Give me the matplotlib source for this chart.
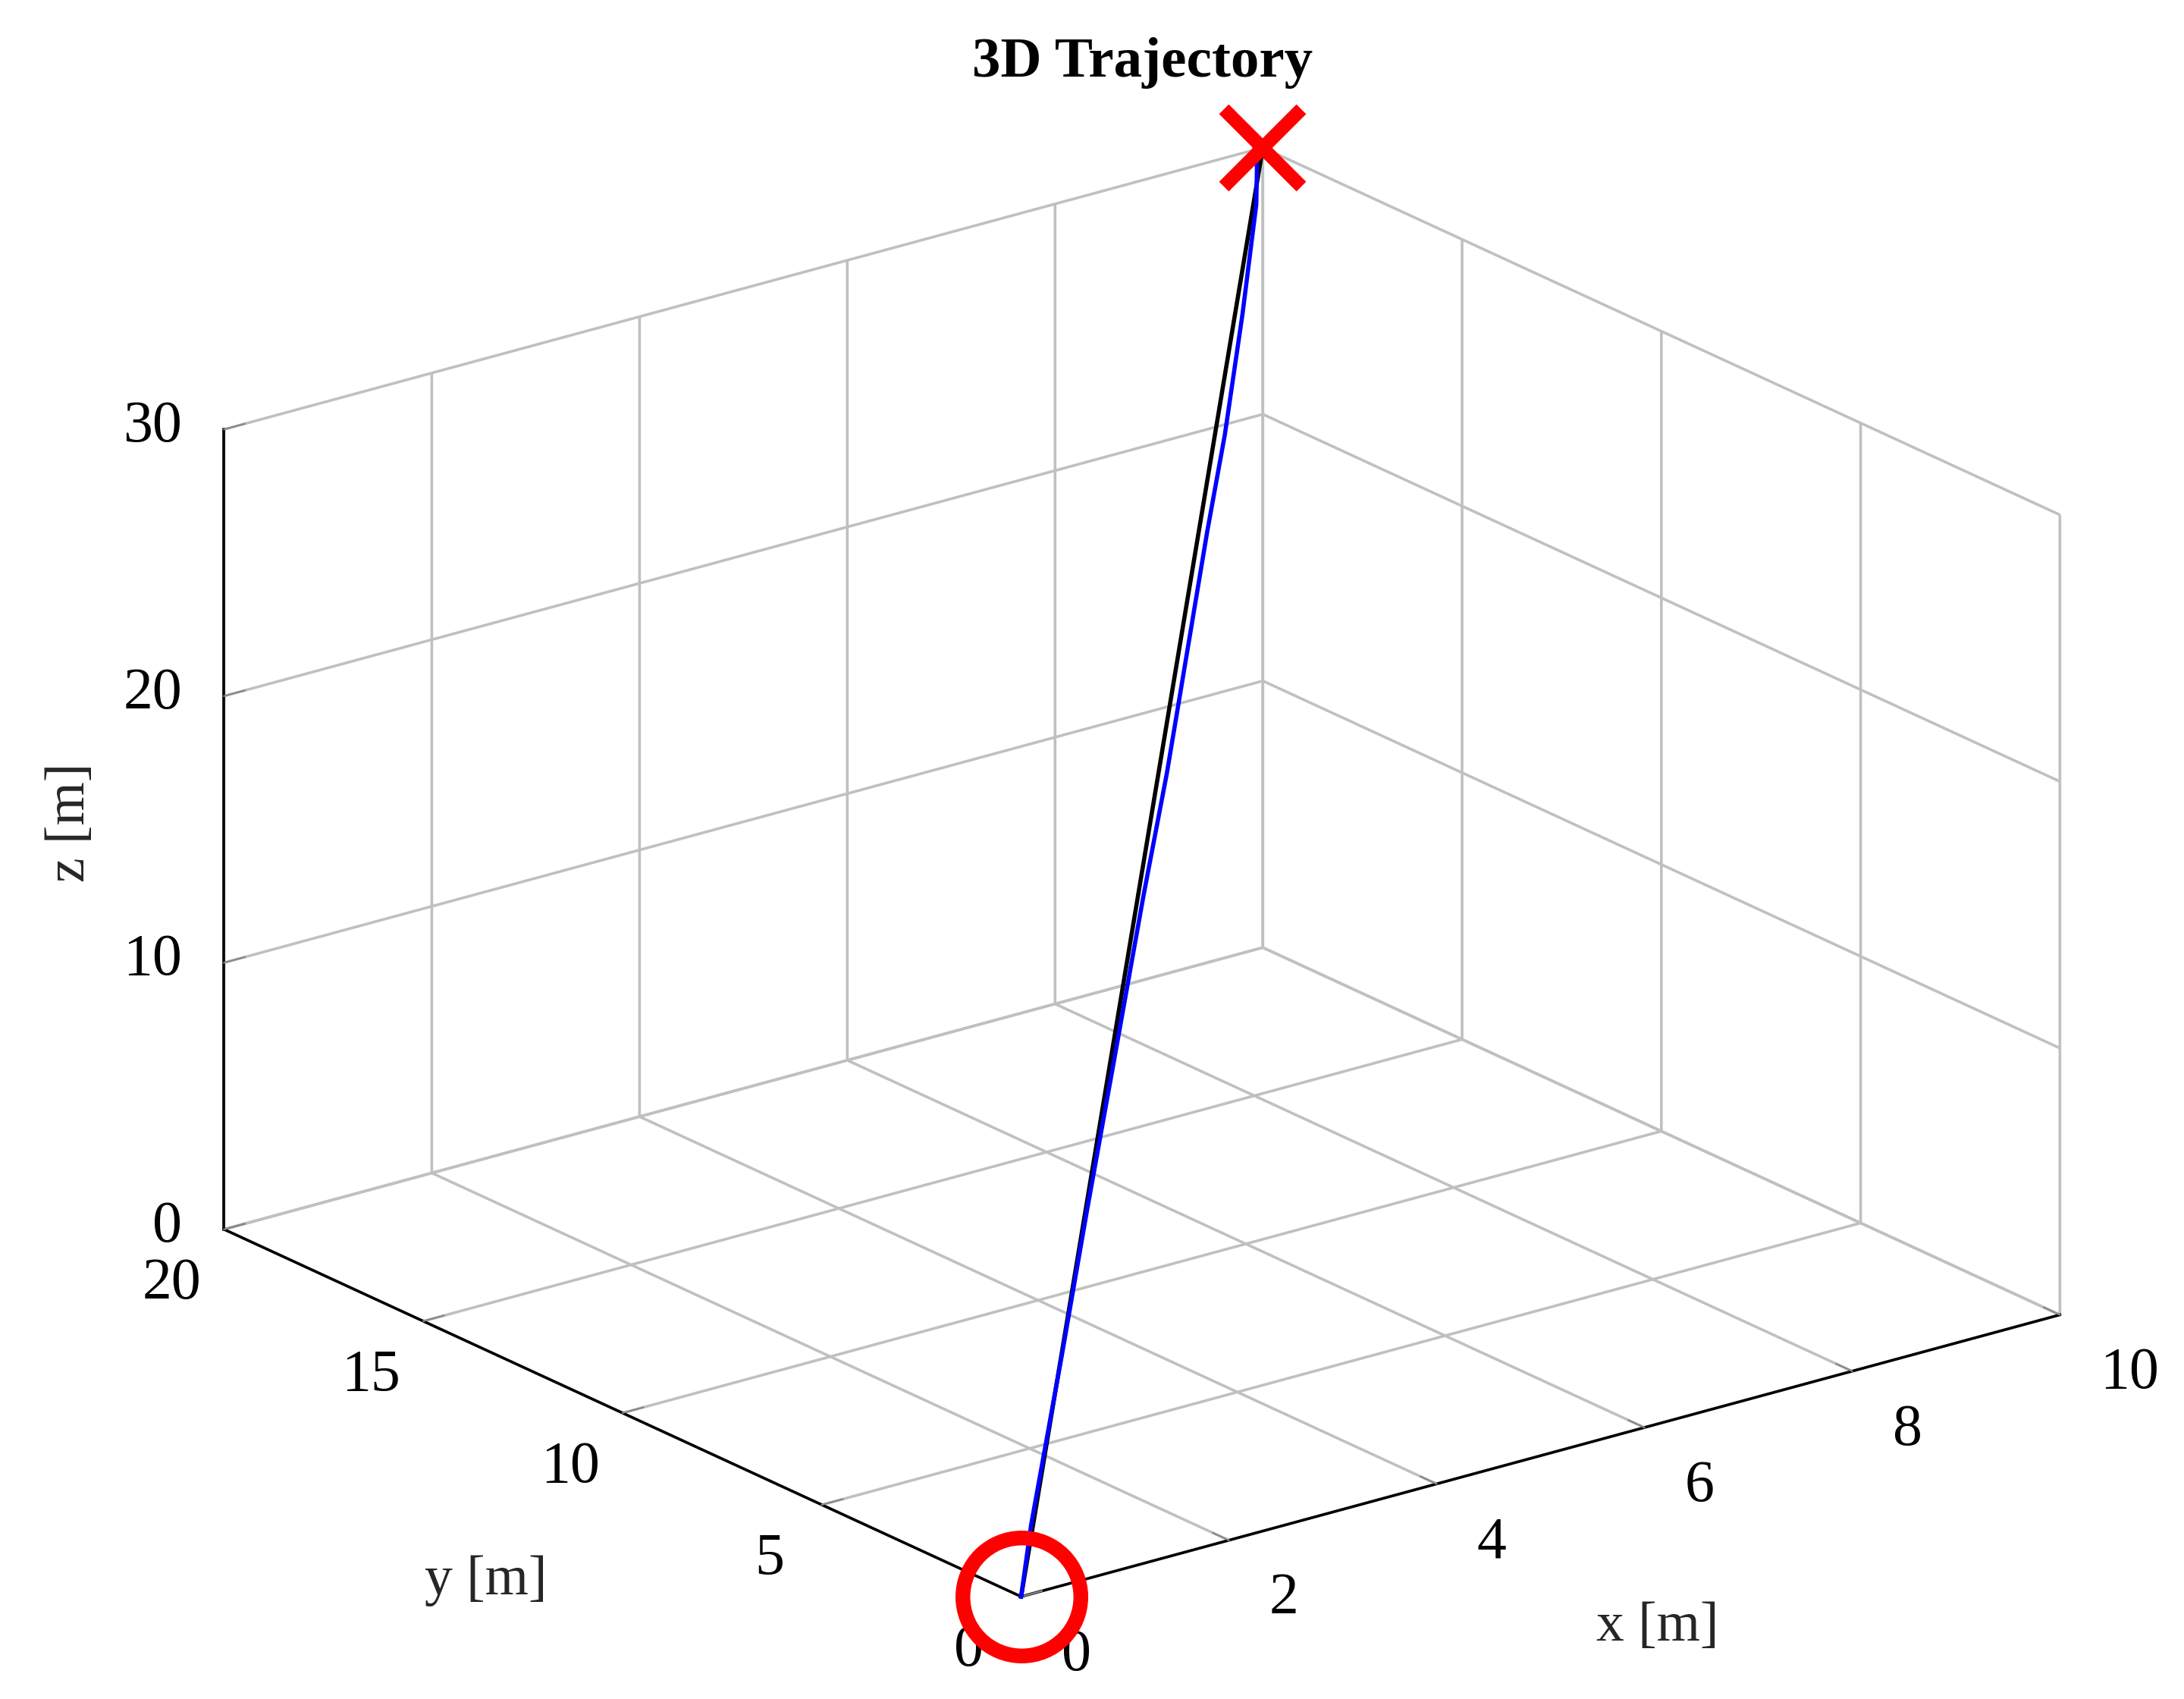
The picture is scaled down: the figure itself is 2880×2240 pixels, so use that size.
import matplotlib
matplotlib.use('Agg')
import matplotlib.pyplot as plt

plt.rcParams['font.family'] = ['Liberation Serif', 'DejaVu Serif']
plt.rcParams['grid.color'] = '#c0c0c0'
plt.rcParams['grid.linewidth'] = 1.3

# reference path (straight line start -> goal)
x_ref = [0, 10]
y_ref = [0, 20]
z_ref = [0, 30]

# flown trajectory
x_traj = [0, 0.48, 1.67, 2.68, 3.70, 4.89, 5.75, 6.42, 7.42, 8.10, 8.91, 9.63, 9.84, 9.92]
y_traj = [0, 1.00, 3.33, 5.33, 7.33, 9.67, 11.33, 12.67, 14.67, 16.0, 17.67, 19.2, 19.73, 20.0]
z_traj = [0, 1.5, 5.0, 8.0, 11.0, 14.5, 17.0, 19.0, 22.0, 24.0, 26.5, 28.8, 29.6, 30.1]

start = (0, 0, 0)
goal = (10, 20, 30)

x_ticks = [0, 2, 4, 6, 8, 10]
y_ticks = [0, 5, 10, 15, 20]
z_ticks = [0, 10, 20, 30]

fig = plt.figure(figsize=(14.4, 11.2), dpi=200)
ax = fig.add_axes([0.013, 0.004, 1.0, 0.94], projection='3d', proj_type='ortho')
ax.view_init(elev=20.7, azim=-127.5)
ax.set_box_aspect((1, 1, 0.653), zoom=1.24)

ax.plot(x_ref, y_ref, z_ref, color='black', lw=2)
ax.plot(x_traj, y_traj, z_traj, color='blue', lw=2)
ax.plot([start[0]], [start[1]], [start[2]], 'o', ms=56, mfc='none',
        mec='red', mew=7)
ax.plot([goal[0]], [goal[1]], [goal[2]], 'x', ms=37, color='red', mew=6.5)

ax.set_xlim(0, 10)
ax.set_ylim(0, 20)
ax.set_zlim(0, 30)
ax.set_xticks(x_ticks)
ax.set_yticks(y_ticks)
ax.set_zticks(z_ticks)

for a in (ax.xaxis, ax.yaxis, ax.zaxis):
    a.set_pane_color((1, 1, 1, 0))
    a.pane.set_edgecolor('#c0c0c0')
    a.line.set_color('black')
    a.line.set_linewidth(1.3)
    a._axinfo['tick']['inward_factor'] = 0.0
    a._axinfo['tick']['outward_factor'] = 0.25
ax.tick_params(color='#888888', width=0.5, labelsize=28, pad=12)
ax.zaxis.set_tick_params(pad=1)
for lab in ax.get_xticklabels() + ax.get_yticklabels() + ax.get_zticklabels():
    lab.set_va('center')
for lab in ax.get_xticklabels():
    lab.set_ha('left')
for lab in ax.get_zticklabels():
    lab.set_ha('right')

ax.set_xlabel('x [m]', fontsize=26.5, color='#262626', labelpad=37)
ax.set_ylabel('y [m]', fontsize=26.5, color='#262626', labelpad=31)
ax.set_zlabel('z [m]', fontsize=26.5, color='#262626', labelpad=12)
ax.xaxis.set_rotate_label(False)
ax.yaxis.set_rotate_label(False)
ax.zaxis.set_rotate_label(False)
ax.zaxis.label.set_rotation(90)
# y label sits a bit lower in the original
ax.yaxis._axinfo['label']['va'] = 'top'
ax.yaxis.label.set_va('top')

fig.suptitle('3D Trajectory', x=0.523, fontsize=27, fontweight='bold', y=0.978)

fig.savefig('out.png', dpi=200)
